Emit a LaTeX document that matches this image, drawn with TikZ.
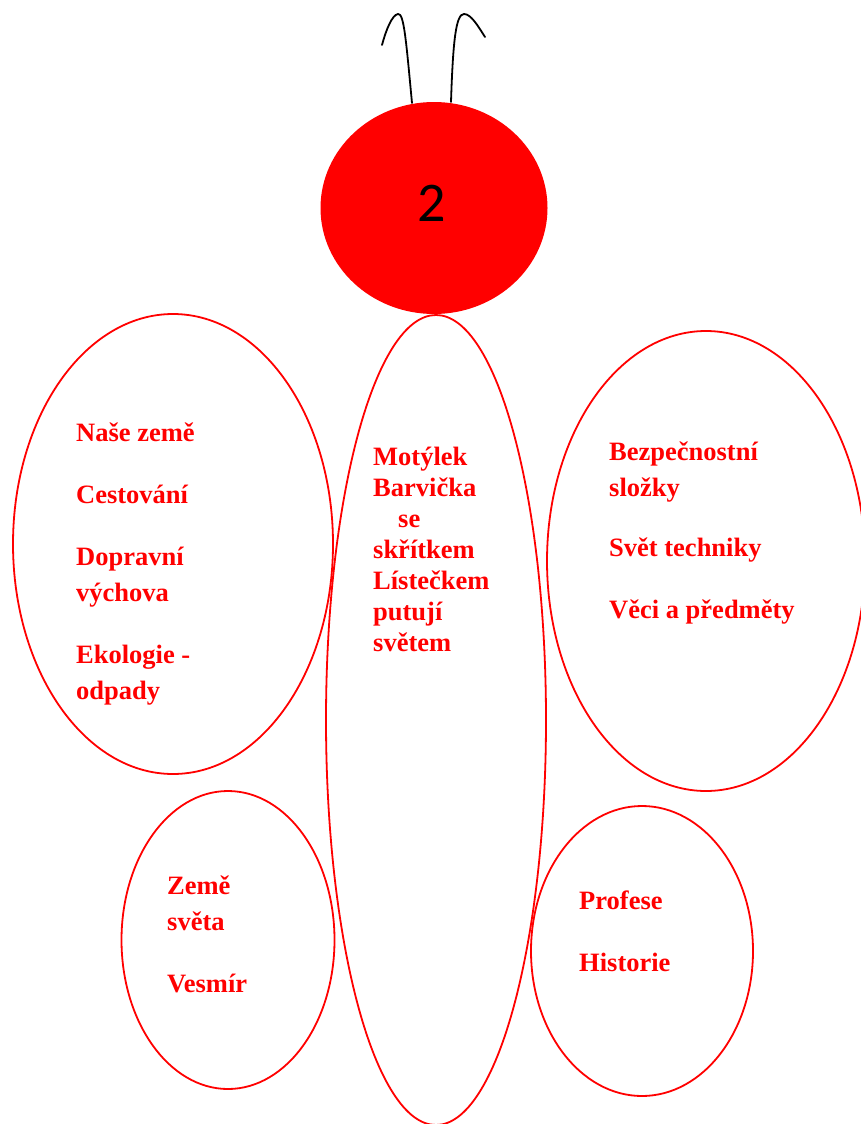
\documentclass[tikz,border=0pt]{standalone}
\usepackage{fontspec}
\setmainfont{Liberation Serif}
\newfontfamily\digitfont{Carlito}
\definecolor{wingred}{RGB}{255, 0, 0}
\usetikzlibrary{shapes.geometric, positioning}

\begin{document}
\begin{tikzpicture}[
  x=1pt, y=-1pt,
  wing/.style={draw=wingred, line width=1.8pt, ellipse, inner sep=0pt},
  headblob/.style={fill=wingred, ellipse, inner sep=0pt},
  wingtext/.style={text=wingred, font=\fontsize{26.5}{36}\selectfont\bfseries, align=left, inner sep=0pt, anchor=base west},
  feeler/.style={draw=black, line width=1.8pt, line cap=round}
]
  \useasboundingbox (0,0) rectangle (861,1124);

  \node[wing, minimum width=220pt, minimum height=810pt] (body) at (436,720) {};
  \node[wing, minimum width=320pt, minimum height=460pt] (wingTL) at (173,544) {};
  \node[wing, minimum width=318pt, minimum height=460pt] (wingTR) at (706,561) {};
  \node[wing, minimum width=213pt, minimum height=298pt] (wingBL) at (228,940) {};
  \node[wing, minimum width=222pt, minimum height=290pt] (wingBR) at (642,951) {};
  \node[headblob, minimum width=227pt, minimum height=212pt] (head) at (434,208) {};
  \node[font=\digitfont\fontsize{56}{60}\selectfont, inner sep=0pt] (num) at (432,203) {2};

  \coordinate (feelL) at (412,103);
  \coordinate (feelR) at (451,102);
  \draw[feeler] (feelL) .. controls (406,40) and (404,13) .. (398,14) .. controls (392,15) and (386,30) .. (382,45);
  \draw[feeler] (feelR) .. controls (453,40) and (456,14) .. (464,14) .. controls (471,14) and (478,26) .. (485,37);

  \node[wingtext] (txtTL) at (76,699) {Naše země\\[26pt]Cestování\\[26pt]Dopravní\\výchova\\[26pt]Ekologie -\\odpady};
  \node[wingtext, font=\fontsize{26.5}{31}\selectfont\bfseries] (txtBody) at (373,651) {Motýlek\\Barvička\\\hspace*{25pt}se\\skřítkem\\Lístečkem\\putují\\světem};
  \node[wingtext] (txtTR) at (609,618) {Bezpečnostní\\složky\\[24pt]Svět techniky\\[26pt]Věci a předměty};
  \node[wingtext] (txtBL) at (167,992) {Země\\světa\\[26pt]Vesmír};
  \node[wingtext] (txtBR) at (579,971) {Profese\\[26pt]Historie};
\end{tikzpicture}
\end{document}
